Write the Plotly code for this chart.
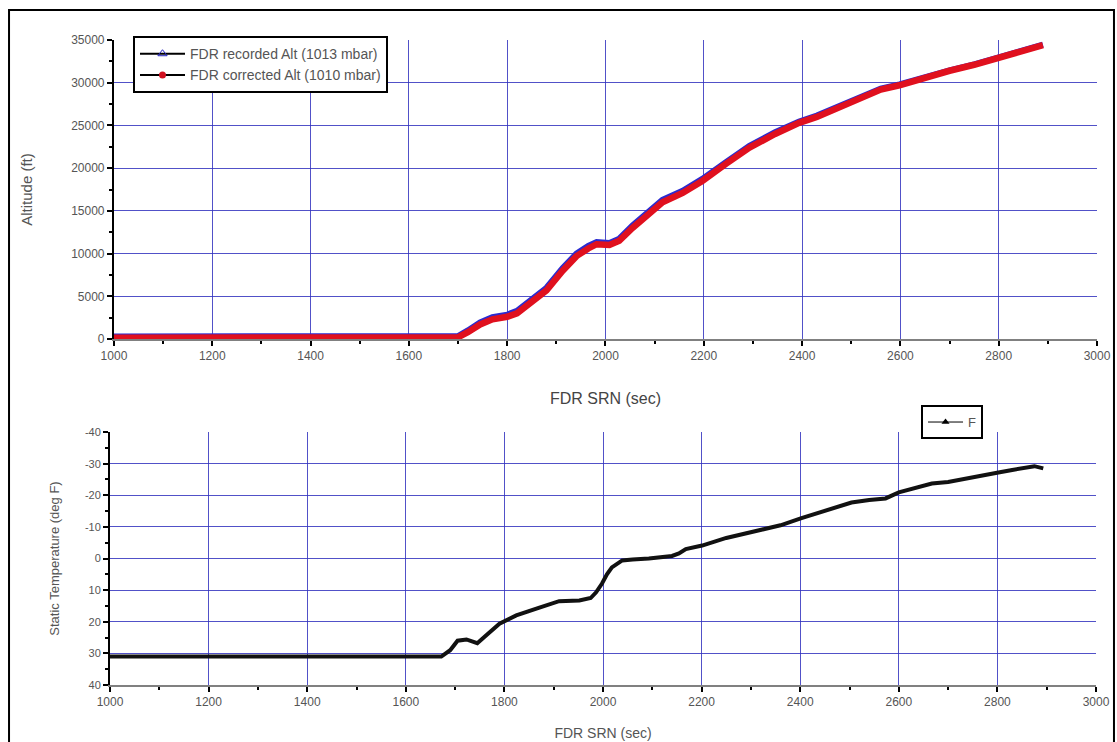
import plotly.graph_objects as go

# ---- data ----
alt_x = [1000, 1100, 1200, 1300, 1400, 1500, 1600, 1700, 1720, 1745, 1770, 1800, 1820,
         1845, 1880, 1913, 1941, 1965, 1982, 2008, 2028, 2055, 2083, 2116, 2157, 2197,
         2245, 2293, 2345, 2394, 2430, 2461, 2500, 2530, 2560, 2598, 2650, 2700, 2750,
         2801, 2850, 2890]
alt_corrected = [150, 150, 150, 150, 150, 150, 150, 200, 800, 1700, 2300, 2600, 3000,
                 4100, 5700, 8000, 9700, 10600, 11100, 11000, 11500, 13000, 14400, 16000,
                 17100, 18500, 20500, 22400, 24000, 25300, 26000, 26800, 27800, 28600,
                 29200, 29700, 30600, 31400, 32100, 32900, 33700, 34400]
alt_recorded = [300, 300, 250, 200, 200, 200, 200, 350, 1000, 1950, 2550, 2850, 3300,
                4400, 6000, 8300, 10000, 10900, 11350, 11250, 11750, 13300, 14700, 16300,
                17350, 18750, 20700, 22600, 24200, 25450, 26150, 26900, 27900, 28700,
                29300, 29800, 30700, 31450, 32150, 32950, 33750, 34450]

temp_x = [1000, 1100, 1200, 1300, 1400, 1500, 1600, 1672, 1690, 1705, 1723, 1745, 1765,
          1790, 1824, 1850, 1871, 1911, 1952, 1975, 1986, 1998, 2008, 2018, 2039, 2060,
          2093, 2140, 2154, 2168, 2201, 2250, 2316, 2360, 2401, 2450, 2504, 2540, 2573,
          2600, 2667, 2700, 2735, 2770, 2802, 2830, 2857, 2875, 2893]
temp_f = [31, 31, 31, 31, 31, 31, 31, 31, 29, 26, 25.6, 26.8, 24, 20.6, 18, 16.5, 15.5,
          13.5, 13.3, 12.5, 10.7, 7.9, 5, 2.8, 0.6, 0.3, 0, -0.8, -1.6, -3, -4.1, -6.5,
          -8.9, -10.5, -12.7, -15, -17.7, -18.5, -19, -20.9, -23.7, -24.2, -25.3, -26.5,
          -27.2, -28, -28.8, -29.2, -28.5]

x_ticks = [1000, 1200, 1400, 1600, 1800, 2000, 2200, 2400, 2600, 2800, 3000]
alt_ticks = [0, 5000, 10000, 15000, 20000, 25000, 30000, 35000]
temp_ticks = [-40, -30, -20, -10, 0, 10, 20, 30, 40]
temp_tick_text = ["-40", "-30", "-20", "-10", "0", "10", "20", "30", "40"]

name_rec = "FDR recorded Alt (1013 mbar)"
name_cor = "FDR corrected Alt (1010 mbar)"
name_temp = "F"

FONT = "Liberation Sans, Arial, sans-serif"
GRID = "rgba(50,50,190,0.85)"
TXT = "#555555"

fig = go.Figure()

# data traces (thick coloured bands formed by dense markers in the original)
fig.add_trace(go.Scatter(x=alt_x, y=alt_recorded, mode="lines",
                         line=dict(color="#2b2bd0", width=6), showlegend=False,
                         xaxis="x", yaxis="y"))
fig.add_trace(go.Scatter(x=alt_x, y=alt_corrected, mode="lines",
                         line=dict(color="#e0101e", width=6.5), showlegend=False,
                         xaxis="x", yaxis="y"))
fig.add_trace(go.Scatter(x=temp_x, y=temp_f, mode="lines",
                         line=dict(color="#111111", width=4), showlegend=False,
                         xaxis="x2", yaxis="y2"))

# legend entries
fig.add_trace(go.Scatter(x=[None], y=[None], mode="lines+markers", name=name_rec,
                         line=dict(color="black", width=2),
                         marker=dict(symbol="triangle-up-open", color="#2020c0", size=8),
                         xaxis="x", yaxis="y", legend="legend"))
fig.add_trace(go.Scatter(x=[None], y=[None], mode="lines+markers", name=name_cor,
                         line=dict(color="black", width=2),
                         marker=dict(symbol="circle", color="#d01020", size=7),
                         xaxis="x", yaxis="y", legend="legend"))
fig.add_trace(go.Scatter(x=[None], y=[None], mode="lines+markers", name=name_temp,
                         line=dict(color="black", width=1),
                         marker=dict(symbol="triangle-up", color="black", size=7),
                         xaxis="x2", yaxis="y2", legend="legend2"))

axis_common = dict(showline=True, linewidth=2, ticks="outside", ticklen=5,
                   tickwidth=2, tickcolor="black", showgrid=True, gridcolor=GRID,
                   gridwidth=1, zeroline=False, automargin=False,
                   tickfont=dict(family=FONT, size=12, color=TXT))

fig.update_layout(
    width=1117, height=742,
    paper_bgcolor="white", plot_bgcolor="white",
    margin=dict(l=110, r=20, t=40, b=57, autoexpand=False),
    font=dict(family=FONT, color=TXT),
    xaxis=dict(axis_common, domain=[0.004, 1.0], range=[1000, 3000],
               tickvals=x_ticks, linecolor="#808080", anchor="y",
               minor=dict(dtick=100, ticklen=3, tickwidth=2, tickcolor="black", showgrid=False),
               title=dict(text="FDR SRN (sec)", font=dict(family=FONT, size=16, color="#444"),
                          standoff=30)),
    yaxis=dict(axis_common, domain=[0.5364, 1.0], range=[0, 35000],
               tickvals=alt_ticks, tickformat="d", linecolor="black", anchor="x",
               minor=dict(dtick=2500, ticklen=3, tickwidth=2, tickcolor="black", showgrid=False),
               title=dict(text="Altitude (ft)", font=dict(family=FONT, size=15, color="#555"),
                          standoff=35)),
    xaxis2=dict(axis_common, domain=[0.0, 0.999], range=[1000, 3000],
                tickvals=x_ticks, linecolor="#808080", anchor="y2",
                minor=dict(dtick=100, ticklen=3, tickwidth=2, tickcolor="black", showgrid=False),
                title=dict(text="FDR SRN (sec)", font=dict(family=FONT, size=14, color="#555"),
                           standoff=20)),
    yaxis2=dict(axis_common, domain=[0.0, 0.3922], range=[40, -40],
                tickvals=temp_ticks, ticktext=temp_tick_text, linecolor="black", anchor="x2",
                tickfont=dict(family=FONT, size=11, color=TXT),
                minor=dict(dtick=5, ticklen=3, tickwidth=2, tickcolor="black", showgrid=False),
                title=dict(text="Static Temperature (deg F)",
                           font=dict(family=FONT, size=13, color="#555"), standoff=22)),
    legend=dict(x=0.0233, y=1.006, xanchor="left", yanchor="top",
                bordercolor="black", borderwidth=2, bgcolor="white",
                font=dict(family=FONT, size=14, color="#555"),
                tracegroupgap=0, itemwidth=45),
    legend2=dict(x=0.8217, y=0.434, xanchor="left", yanchor="top",
                 bordercolor="black", borderwidth=2, bgcolor="white",
                 font=dict(family=FONT, size=13, color="#555"), itemwidth=35),
    shapes=[dict(type="rect", xref="paper", yref="paper",
                 x0=-0.1023, x1=1.0172, y0=-0.10, y1=1.0465,
                 line=dict(color="black", width=2), fillcolor="rgba(0,0,0,0)", layer="above")],
)

post = ("var gd=document.getElementById('{plot_id}');"
        "gd.style.position='fixed';gd.style.left='0px';gd.style.top='0px';"
        "document.body.style.margin='0px';document.body.style.overflow='hidden';"
        "document.documentElement.style.overflow='hidden';")
fig.write_html("out.html", config={"displayModeBar": False}, post_script=post)
